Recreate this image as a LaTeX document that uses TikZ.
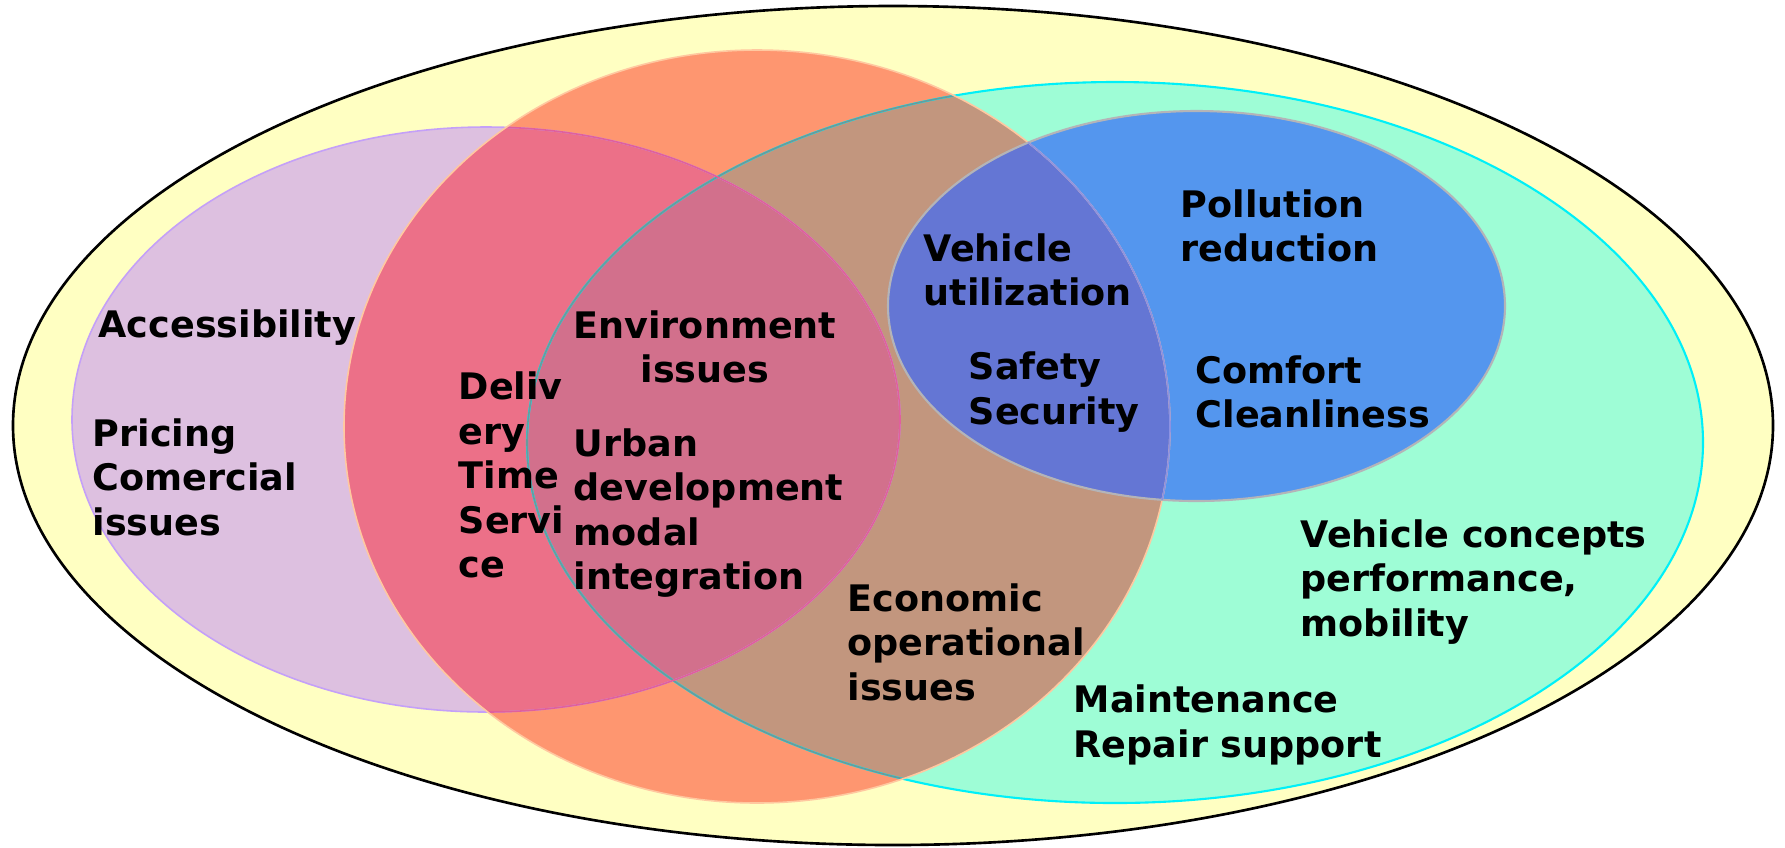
\documentclass[tikz,border=0pt]{standalone}
\usepackage{fontspec}
\setmainfont{DejaVu Sans}
\usetikzlibrary{positioning}
\definecolor{paleyellow}{HTML}{FFFFC2}
\definecolor{lilac}{HTML}{DDC0E0}
\definecolor{lilacline}{HTML}{C4A0F8}
\definecolor{salmon}{HTML}{FE9670}
\definecolor{salmonline}{HTML}{FFC8A0}
\definecolor{rose}{HTML}{EC7088}
\definecolor{roseline}{HTML}{E0609C}
\definecolor{mint}{HTML}{9EFDD6}
\definecolor{mintline}{HTML}{00F0F8}
\definecolor{tealline}{HTML}{6A9A9C}
\definecolor{brownish}{HTML}{C2967E}
\definecolor{mauve}{HTML}{D2708C}
\definecolor{sky}{HTML}{5496EE}
\definecolor{skyline}{HTML}{B4B4B8}
\definecolor{indigo}{HTML}{6476D4}
\definecolor{indigoline}{HTML}{8C92E2}

\tikzset{
  lbl/.style={font=\fontsize{10.4pt}{12.65pt}\selectfont\bfseries,
    align=left, anchor=west, inner sep=0pt},
  rim/.style={line width=0.45pt}
}

\begin{document}
\begin{tikzpicture}[x=0.1mm,y=-0.1mm]
\useasboundingbox (0,0) rectangle (1785,847);
% the five ellipses
\def\outerE{(893,425.5) ellipse [x radius=880,y radius=419.5]}
\def\purpE{(486,419.5) ellipse [x radius=414,y radius=292.5]}
\def\redE{(757,426.5) ellipse [x radius=413,y radius=376.5]}
\def\tealE{(1115,442.5) ellipse [x radius=588,y radius=360.5]}
\def\blueE{(1196.5,306) ellipse [x radius=308.5,y radius=195]}

\fill[paleyellow] \outerE;
\fill[mint] \tealE;
\fill[lilac] \purpE;
\fill[salmon] \redE;
\begin{scope}
  \clip \redE;
  \fill[rose] \purpE;
  \fill[brownish] \tealE;
  \clip \purpE;
  \fill[mauve] \tealE;
\end{scope}
\fill[sky] \blueE;
\begin{scope}
  \clip \redE;
  \fill[indigo] \blueE;
\end{scope}

% outlines
\draw[black,line width=0.75pt] \outerE;
\draw[mintline,line width=0.6pt] \tealE;
\draw[lilacline,rim] \purpE;
\begin{scope}
  \clip \redE;
  \draw[tealline,rim] \tealE;
  \draw[roseline,rim] \purpE;
\end{scope}
\draw[salmonline,rim] \redE;
\draw[skyline,line width=0.6pt] \blueE;
\begin{scope}
  \clip \blueE;
  \draw[indigoline,rim] \redE;
\end{scope}

% labels
\node[lbl] (access) at (98,328) {Accessibility};
\node[lbl] (pricing) at (92,477) {Pricing\\Comercial\\issues};
\node[lbl] (delivery) at (458,475) {Deliv\\ery\\Time\\Servi\\ce};
\node[lbl,align=center,anchor=center] (environ) at (705,347) {Environment\\issues};
\node[lbl] (urban) at (573,513) {Urban\\development\\modal\\integration};
\node[lbl] (vutil) at (923,270) {Vehicle\\utilization};
\node[lbl] (pollution) at (1180,226) {Pollution\\reduction};
\node[lbl] (safety) at (968,392) {Safety\\Security};
\node[lbl] (comfort) at (1195,392) {Comfort\\Cleanliness};
\node[lbl] (vconcept) at (1300,582) {Vehicle concepts\\performance,\\mobility};
\node[lbl] (econ) at (847,642) {Economic\\operational\\issues};
\node[lbl] (maint) at (1073,725) {Maintenance\\Repair support};
\end{tikzpicture}
\end{document}
